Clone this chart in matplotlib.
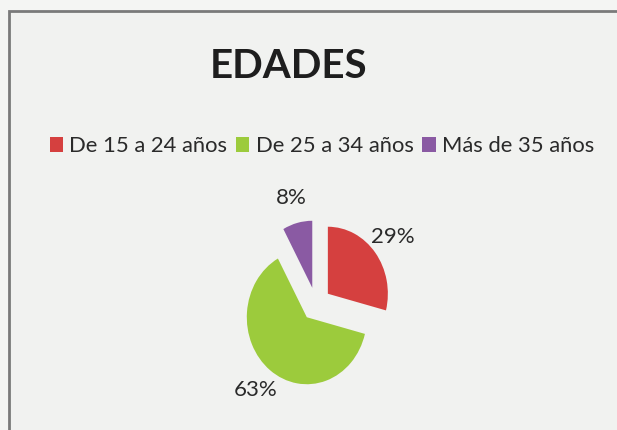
import matplotlib
matplotlib.use("Agg")
import matplotlib.pyplot as plt
from matplotlib.patches import Rectangle

# datos
categorias = ["De 15 a 24 años", "De 25 a 34 años", "Más de 35 años"]
porcentajes = [29, 63, 8]
colores = ["#D5403F", "#9CCB3C", "#8A5AA3"]
titulo = "EDADES"

plt.rcParams["font.family"] = ["Lato", "DejaVu Sans"]

fig = plt.figure(figsize=(6.17, 4.30), dpi=100)
fig.patch.set_facecolor("#F4F5F3")

# marco del grafico
fig.patches.append(Rectangle((9 / 617, -0.1), 1.2, (430 - 11) / 430 + 0.1,
                             transform=fig.transFigure, facecolor="#F1F2F0",
                             edgecolor="#7A7A7A", linewidth=2, zorder=-5))

fig.text(289 / 617, 1 - 67 / 430, titulo, ha="center", va="center",
         fontsize=29, fontweight="bold", color="#1E1E1E")

# ejes con escala algo estirada en vertical (como el escaneo)
rx, ry = 60, 67
cx, cy = 316, 430 - 304
x0, x1, y0, y1 = -2.5, 2.5, -1.85, 2.2
ax = fig.add_axes([(cx + x0 * rx) / 617, (cy + y0 * ry) / 430,
                   (x1 - x0) * rx / 617, (y1 - y0) * ry / 430])
ax.set_zorder(2)

wedges, textos, pcts = ax.pie(porcentajes, colors=colores, startangle=90,
                              counterclock=False, explode=[0.25, 0.25, 0.25],
                              autopct="%1.0f%%", pctdistance=1.38,
                              textprops={"fontsize": 16, "color": "#2A2A2A"},
                              wedgeprops={"linewidth": 0})
ax.set_aspect("auto")
ax.set_xlim(x0, x1)
ax.set_ylim(y0, y1)
ax.axis("off")

fig.legend(wedges, categorias, loc="center", bbox_to_anchor=(322 / 617, 1 - 146 / 430),
           ncol=3, frameon=False, fontsize=15.8, handlelength=0.6, handleheight=0.7,
           handletextpad=0.3, columnspacing=0.4, labelcolor="#2A2A2A")

fig.savefig("out.png", dpi=100, facecolor=fig.get_facecolor())
